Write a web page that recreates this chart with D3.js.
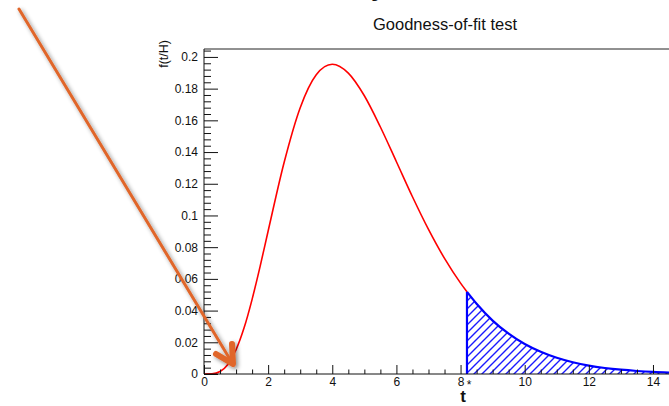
<!DOCTYPE html>
<html><head><meta charset="utf-8">
<script src="https://cdn.jsdelivr.net/npm/d3@7"></script>
<style>
html,body{margin:0;padding:0;background:#fff;}
svg{display:block;font-family:"Liberation Sans",Arial,Helvetica,sans-serif;}
</style></head>
<body>
<svg id="chart" width="669" height="406"></svg>
<script>
// ---- data ----
const tValues = [0,0.25,0.5,0.75,1,1.25,1.5,1.75,2,2.5,3,3.5,4,4.5,5,5.5,6,6.5,7,7.5,8,8.2,8.5,9,9.5,10,10.5,11,11.5,12,12.5,13,13.5,14,14.5,15];
const fValues = [0,0.0001,0.0016,0.0062,0.0153,0.0291,0.0471,0.0679,0.0902,0.1336,0.1680,0.1888,0.1954,0.1898,0.1755,0.1558,0.1339,0.1118,0.0912,0.0729,0.0573,0.0518,0.0443,0.0337,0.0254,0.0189,0.0140,0.0102,0.0074,0.0053,0.0038,0.0027,0.0019,0.0013,0.0009,0.0006];
const tStar = 8.2;
const xTickLabels = ["0","2","4","6","8","10","12","14"];
const xMajorTicks = [0,2,4,6,8,10,12,14];
const xMinorTicks = [0.5,1,1.5,2.5,3,3.5,4.5,5,5.5,6.5,7,7.5,8.5,9,9.5,10.5,11,11.5,12.5,13,13.5,14.5,15];
const yMajorTicks = [0,0.02,0.04,0.06,0.08,0.1,0.12,0.14,0.16,0.18,0.2];
const yTickLabels = ["0","0.02","0.04","0.06","0.08","0.1","0.12","0.14","0.16","0.18","0.2"];
const yMinorTicks = d3.range(0,52).map(i=>+(i*0.004).toFixed(3)).filter(v=>!yMajorTicks.some(m=>Math.abs(m-v)<1e-9));
const titleText = "Goodness-of-fit test";
const yTitle = "f(t/H)";
const xTitle = "t";

// ---- layout ----
const svg = d3.select("#chart");
const x0 = 204, yBase = 374, yTop = 49;
const x = d3.scaleLinear().domain([0, 15]).range([x0, x0 + 15*32.07]);
const y = d3.scaleLinear().domain([0, 0.205]).range([yBase, yTop]);

const defs = svg.append("defs");
const pat = defs.append("pattern").attr("id","hatch").attr("patternUnits","userSpaceOnUse")
  .attr("width",8).attr("height",8);
pat.append("path").attr("d","M-2,2 L2,-2 M0,8 L8,0 M6,10 L10,6")
  .style("stroke","#1a1aff").style("stroke-width","1.4px").style("fill","none");
const flt = defs.append("filter").attr("id","shadow").attr("x","-20%").attr("y","-20%").attr("width","140%").attr("height","140%");
flt.append("feDropShadow").attr("dx",2).attr("dy",2).attr("stdDeviation",2).attr("flood-color","#000").attr("flood-opacity",0.45);

// partial glyph at top (cut-off heading, as in the reference)
svg.append("text").attr("x",371).attr("y",-4).attr("font-size",26).attr("font-weight","bold").attr("fill","#111").text("y");

// title
svg.append("text").attr("x",445).attr("y",30).attr("text-anchor","middle").attr("font-size",16.5).attr("fill","#111").text(titleText);

const pts = tValues.map((t,i)=>({t, f:fValues[i]}));
const left = pts.filter(d=>d.t<=tStar);
const right = pts.filter(d=>d.t>=tStar);

// hatched tail area
const area = d3.area().x(d=>x(d.t)).y0(y(0)).y1(d=>y(d.f)).curve(d3.curveMonotoneX);
svg.append("path").datum(right).attr("d",area).style("fill","url(#hatch)").style("stroke","none");

// red curve
const line = d3.line().x(d=>x(d.t)).y(d=>y(d.f)).curve(d3.curveMonotoneX);
svg.append("path").datum(left).attr("d",line).attr("fill","none").attr("stroke","#ff0000").attr("stroke-width",1.6);
// blue outline of tail
svg.append("path").datum(right).attr("d",line).attr("fill","none").attr("stroke","#0000ff").attr("stroke-width",2.2);
svg.append("line").attr("x1",x(tStar)).attr("x2",x(tStar)).attr("y1",y(0)).attr("y2",y(right[0].f))
  .attr("stroke","#0000ff").attr("stroke-width",2.2);

// frame top
svg.append("line").attr("x1",x0).attr("x2",669).attr("y1",yTop).attr("y2",yTop).attr("stroke","#222").attr("stroke-width",1);

// axes
const yAxisMajor = d3.axisLeft(y).tickValues(yMajorTicks).tickSizeInner(-14).tickSizeOuter(0).tickPadding(6)
  .tickFormat((d,i)=>yTickLabels[i]);
const gy = svg.append("g").attr("transform",`translate(${x0},0)`).call(yAxisMajor);
gy.select(".domain").attr("d",`M0,${yBase}V${yTop}`).attr("stroke","#111");
gy.selectAll("text").attr("font-size",12).attr("fill","#111").attr("font-family",null);
gy.selectAll(".tick line").attr("stroke","#111");
const gy2 = svg.append("g").attr("transform",`translate(${x0},0)`)
  .call(d3.axisLeft(y).tickValues(yMinorTicks).tickSizeInner(-7).tickSizeOuter(0).tickFormat(""));
gy2.select(".domain").remove();
gy2.selectAll(".tick line").attr("stroke","#111");

const xAxisMajor = d3.axisBottom(x).tickValues(xMajorTicks).tickSizeInner(-9).tickSizeOuter(0).tickPadding(3)
  .tickFormat((d,i)=>xTickLabels[i]);
const gx = svg.append("g").attr("transform",`translate(0,${yBase})`).call(xAxisMajor);
gx.select(".domain").attr("d",`M${x0},0H669`).attr("stroke","#111");
gx.selectAll("text").attr("font-size",12).attr("fill","#111").attr("font-family",null);
gx.selectAll(".tick line").attr("stroke","#111");
const gx2 = svg.append("g").attr("transform",`translate(0,${yBase})`)
  .call(d3.axisBottom(x).tickValues(xMinorTicks).tickSizeInner(-4.5).tickSizeOuter(0).tickFormat(""));
gx2.select(".domain").remove();
gx2.selectAll(".tick line").attr("stroke","#111");

// star near t*
svg.append("text").attr("x",x(tStar)+2).attr("y",389).attr("text-anchor","middle").attr("font-size",12).attr("fill","#111").text("*");
// axis titles
svg.append("text").attr("x",463).attr("y",402).attr("text-anchor","middle").attr("font-size",17).attr("font-weight","bold").attr("fill","#111").text(xTitle);
svg.append("text").attr("transform","translate(168,40) rotate(-90)").attr("text-anchor","end").attr("font-size",12.5).attr("fill","#111").text(yTitle);

// orange arrow annotation
const arrowColor = "#e0662a";
const ga = svg.append("g").attr("filter","url(#shadow)");
ga.append("line").attr("x1",19).attr("y1",9).attr("x2",231).attr("y2",361).attr("stroke",arrowColor).attr("stroke-width",3).attr("stroke-linecap","round");
ga.append("path").attr("d","M216,354 L233,364 L232,344").attr("fill","none").attr("stroke",arrowColor)
  .attr("stroke-width",6).attr("stroke-linecap","round").attr("stroke-linejoin","round");
</script>
</body></html>
